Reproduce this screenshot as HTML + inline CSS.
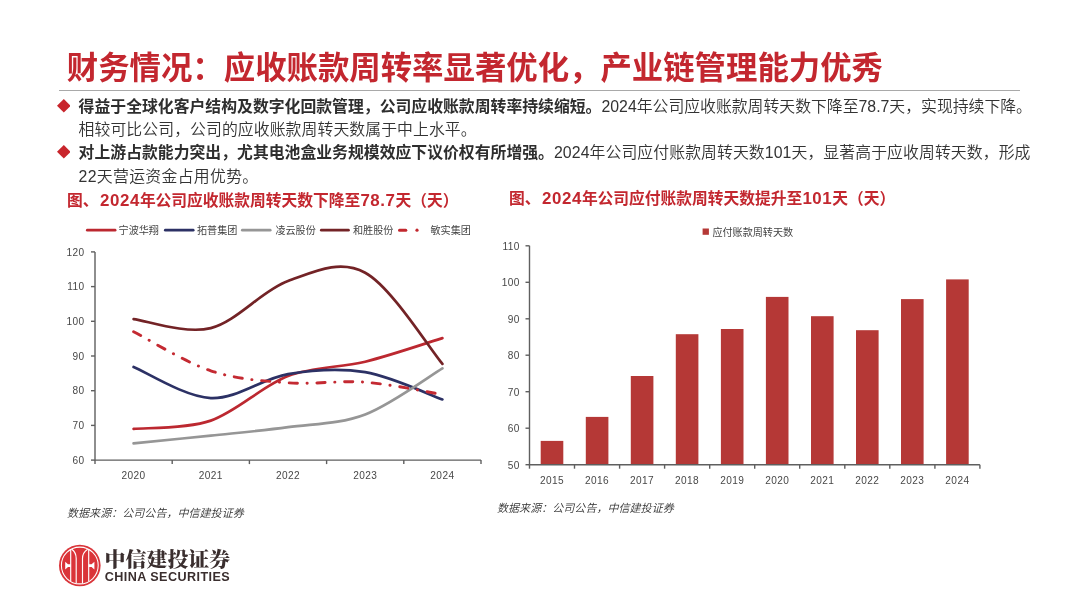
<!DOCTYPE html>
<html lang="zh-CN"><head><meta charset="utf-8"><title>财务情况</title>
<style>
html,body{margin:0;padding:0;background:#fff;}
body{width:1080px;height:599px;position:relative;overflow:hidden;font-family:"Liberation Sans","Noto Sans CJK SC",sans-serif;}
.abs{position:absolute;white-space:nowrap;}
#title{left:66.8px;top:46.1px;font-size:31.4px;line-height:46px;font-weight:700;color:#C3272F;letter-spacing:0;}
#rule{left:59px;top:89.6px;width:961px;height:1.4px;background:#a9a9a9;}
.ln{left:78.6px;font-size:15.85px;line-height:23px;color:#333;font-weight:350;}
.ln b{font-weight:700;color:#2e2e2e;}
.ln span{display:inline-block;}
.bul{left:56.6px;width:13.6px;height:13.6px;}
.ct{font-size:15.75px;line-height:22px;font-weight:700;color:#C3272F;}
.ct i{font-style:normal;font-size:16.9px;letter-spacing:0.55px;}
.ct i:first-child{margin-left:1.6px;}
.src{font-size:11.05px;line-height:14px;font-style:italic;color:#333;font-weight:350;}
svg text.ax{font-size:10.1px;fill:#484848;letter-spacing:0.4px;font-family:"Liberation Sans","Noto Sans CJK SC",sans-serif;}
svg text.lg{font-size:10.1px;fill:#444;font-family:"Liberation Sans","Noto Sans CJK SC",sans-serif;}
#logocn{left:104.6px;top:544px;font-family:"Liberation Serif","Noto Serif CJK SC",serif;font-weight:900;font-size:20.95px;line-height:32px;color:#3a2e2e;transform:scale(1,0.97);transform-origin:0 16px;}
#logoen{left:104.8px;top:569.2px;font-weight:700;font-size:12.6px;line-height:16px;color:#3a2e2e;letter-spacing:0.43px;}
</style></head><body>
<div class="abs" id="title">财务情况：应收账款周转率显著优化，产业链管理能力优秀</div>
<div class="abs" id="rule"></div>
<svg class="abs bul" style="top:99px" viewBox="0 0 10 10"><path d="M5,0L10,5L5,10L0,5Z" fill="#C8252C"/></svg>
<svg class="abs bul" style="top:145.2px" viewBox="0 0 10 10"><path d="M5,0L10,5L5,10L0,5Z" fill="#C8252C"/></svg>
<div class="abs ln" style="top:94.6px"><b>得益于全球化客户结构及数字化回款管理，公司应收账款周转率持续缩短。</b><span id="s1">2024年公司应收账款周转天数下降至78.7天，实现持续下降。</span></div>
<div class="abs ln" style="top:118px;letter-spacing:0.08px">相较可比公司，公司的应收账款周转天数属于中上水平。</div>
<div class="abs ln" style="top:140.9px"><b>对上游占款能力突出，尤其电池盒业务规模效应下议价权有所增强。</b><span id="s3" style="letter-spacing:0.09px">2024年公司应付账款周转天数101天，显著高于应收周转天数，形成</span></div>
<div class="abs ln" style="top:164.9px;letter-spacing:0.32px">22天营运资金占用优势。</div>
<div class="abs ct" style="left:67px;top:189.5px">图、<i>2024</i>年公司应收账款周转天数下降至<i>78.7</i>天（天）</div>
<div class="abs ct" style="left:509px;top:188px">图、<i>2024</i>年公司应付账款周转天数提升至<i>101</i>天（天）</div>
<svg class="abs" style="left:0;top:0" width="1080" height="599" viewBox="0 0 1080 599">
<g id="leftchart">
<path d="M95.0,251.9V460.1H481.0" fill="none" stroke="#5f5f5f" stroke-width="1.4"/>
<path d="M95.0,251.9h-4" stroke="#5f5f5f" stroke-width="1.4"/>
<text x="84.6" y="255.5" text-anchor="end" class="ax">120</text>
<path d="M95.0,286.6h-4" stroke="#5f5f5f" stroke-width="1.4"/>
<text x="84.6" y="290.2" text-anchor="end" class="ax">110</text>
<path d="M95.0,321.3h-4" stroke="#5f5f5f" stroke-width="1.4"/>
<text x="84.6" y="324.9" text-anchor="end" class="ax">100</text>
<path d="M95.0,356.0h-4" stroke="#5f5f5f" stroke-width="1.4"/>
<text x="84.6" y="359.6" text-anchor="end" class="ax">90</text>
<path d="M95.0,390.7h-4" stroke="#5f5f5f" stroke-width="1.4"/>
<text x="84.6" y="394.3" text-anchor="end" class="ax">80</text>
<path d="M95.0,425.4h-4" stroke="#5f5f5f" stroke-width="1.4"/>
<text x="84.6" y="429.0" text-anchor="end" class="ax">70</text>
<path d="M95.0,460.1h-4" stroke="#5f5f5f" stroke-width="1.4"/>
<text x="84.6" y="463.7" text-anchor="end" class="ax">60</text>
<path d="M95.0,460.1v4" stroke="#5f5f5f" stroke-width="1.4"/>
<path d="M172.2,460.1v4" stroke="#5f5f5f" stroke-width="1.4"/>
<path d="M249.4,460.1v4" stroke="#5f5f5f" stroke-width="1.4"/>
<path d="M326.6,460.1v4" stroke="#5f5f5f" stroke-width="1.4"/>
<path d="M403.8,460.1v4" stroke="#5f5f5f" stroke-width="1.4"/>
<path d="M481.0,460.1v4" stroke="#5f5f5f" stroke-width="1.4"/>
<text x="133.6" y="478.8" text-anchor="middle" class="ax">2020</text>
<text x="210.8" y="478.8" text-anchor="middle" class="ax">2021</text>
<text x="288.0" y="478.8" text-anchor="middle" class="ax">2022</text>
<text x="365.2" y="478.8" text-anchor="middle" class="ax">2023</text>
<text x="442.4" y="478.8" text-anchor="middle" class="ax">2024</text>
<path d="M133.60,428.90 C146.47,427.52 185.07,429.40 210.80,420.60 C236.53,411.80 262.27,385.92 288.00,376.10 C313.73,366.28 339.47,368.03 365.20,361.70 C390.93,355.37 429.53,342.03 442.40,338.10" fill="none" stroke="#BC2830" stroke-width="2.7" stroke-linecap="round"/>
<path d="M133.60,367.00 C146.47,372.18 185.07,396.92 210.80,398.10 C236.53,399.28 262.27,378.42 288.00,374.10 C313.73,369.78 339.47,367.98 365.20,372.20 C390.93,376.42 429.53,394.87 442.40,399.40" fill="none" stroke="#2C3165" stroke-width="2.7" stroke-linecap="round"/>
<path d="M133.60,443.30 C146.47,442.02 185.07,438.28 210.80,435.60 C236.53,432.92 262.27,430.73 288.00,427.20 C313.73,423.67 339.47,424.22 365.20,414.40 C390.93,404.58 429.53,375.98 442.40,368.30" fill="none" stroke="#969696" stroke-width="2.7" stroke-linecap="round"/>
<path d="M133.60,319.10 C146.47,320.60 185.07,334.43 210.80,328.10 C236.53,321.77 262.27,290.33 288.00,281.10 C313.73,271.87 339.47,258.90 365.20,272.70 C390.93,286.50 429.53,348.70 442.40,363.90" fill="none" stroke="#732326" stroke-width="2.7" stroke-linecap="round"/>
<path d="M133.60,331.70 C146.47,338.22 185.07,362.28 210.80,370.80 C236.53,379.32 262.27,380.90 288.00,382.80 C313.73,384.70 339.47,380.25 365.20,382.20 C390.93,384.15 429.53,392.45 442.40,394.50" fill="none" stroke="#C42A32" stroke-width="2.9" stroke-linecap="round" stroke-dasharray="8.2,9.6,0.2,9.7"/>
<path d="M87.3,230.2H115.1" stroke="#BC2830" stroke-width="2.7" stroke-linecap="round"/>
<text x="118.6" y="233.8" class="lg">宁波华翔</text>
<path d="M165.3,230.2H193.2" stroke="#2C3165" stroke-width="2.7" stroke-linecap="round"/>
<text x="197.0" y="233.8" class="lg">拓普集团</text>
<path d="M242.3,230.2H270.2" stroke="#969696" stroke-width="2.7" stroke-linecap="round"/>
<text x="275.4" y="233.8" class="lg">凌云股份</text>
<path d="M321.3,230.2H348.5" stroke="#732326" stroke-width="2.7" stroke-linecap="round"/>
<text x="353.0" y="233.8" class="lg">和胜股份</text>
<path d="M399.5,230.2H405.8" stroke="#C2282E" stroke-width="3" stroke-linecap="round"/>
<circle cx="417" cy="230.2" r="1.6" fill="#C2282E"/>
<text x="430.5" y="233.8" class="lg">敏实集团</text>
</g>
<g id="rightchart">
<rect x="540.7" y="440.9" width="22.6" height="23.8" fill="#B53836"/>
<rect x="585.8" y="416.9" width="22.6" height="47.8" fill="#B53836"/>
<rect x="630.8" y="376.0" width="22.6" height="88.7" fill="#B53836"/>
<rect x="675.8" y="334.2" width="22.6" height="130.5" fill="#B53836"/>
<rect x="720.9" y="329.0" width="22.6" height="135.7" fill="#B53836"/>
<rect x="765.9" y="296.9" width="22.6" height="167.8" fill="#B53836"/>
<rect x="811.0" y="316.2" width="22.6" height="148.5" fill="#B53836"/>
<rect x="856.0" y="330.2" width="22.6" height="134.5" fill="#B53836"/>
<rect x="901.0" y="299.1" width="22.6" height="165.6" fill="#B53836"/>
<rect x="946.1" y="279.4" width="22.6" height="185.3" fill="#B53836"/>
<path d="M529.5,245.8V464.7H979.9" fill="none" stroke="#5f5f5f" stroke-width="1.4"/>
<path d="M529.5,245.8h-4" stroke="#5f5f5f" stroke-width="1.4"/>
<text x="519.9" y="249.7" text-anchor="end" class="ax">110</text>
<path d="M529.5,282.3h-4" stroke="#5f5f5f" stroke-width="1.4"/>
<text x="519.9" y="286.2" text-anchor="end" class="ax">100</text>
<path d="M529.5,318.8h-4" stroke="#5f5f5f" stroke-width="1.4"/>
<text x="519.9" y="322.7" text-anchor="end" class="ax">90</text>
<path d="M529.5,355.2h-4" stroke="#5f5f5f" stroke-width="1.4"/>
<text x="519.9" y="359.1" text-anchor="end" class="ax">80</text>
<path d="M529.5,391.7h-4" stroke="#5f5f5f" stroke-width="1.4"/>
<text x="519.9" y="395.6" text-anchor="end" class="ax">70</text>
<path d="M529.5,428.2h-4" stroke="#5f5f5f" stroke-width="1.4"/>
<text x="519.9" y="432.1" text-anchor="end" class="ax">60</text>
<path d="M529.5,464.7h-4" stroke="#5f5f5f" stroke-width="1.4"/>
<text x="519.9" y="468.6" text-anchor="end" class="ax">50</text>
<path d="M529.5,464.7v4" stroke="#5f5f5f" stroke-width="1.4"/>
<path d="M574.5,464.7v4" stroke="#5f5f5f" stroke-width="1.4"/>
<path d="M619.6,464.7v4" stroke="#5f5f5f" stroke-width="1.4"/>
<path d="M664.6,464.7v4" stroke="#5f5f5f" stroke-width="1.4"/>
<path d="M709.7,464.7v4" stroke="#5f5f5f" stroke-width="1.4"/>
<path d="M754.7,464.7v4" stroke="#5f5f5f" stroke-width="1.4"/>
<path d="M799.7,464.7v4" stroke="#5f5f5f" stroke-width="1.4"/>
<path d="M844.8,464.7v4" stroke="#5f5f5f" stroke-width="1.4"/>
<path d="M889.8,464.7v4" stroke="#5f5f5f" stroke-width="1.4"/>
<path d="M934.9,464.7v4" stroke="#5f5f5f" stroke-width="1.4"/>
<path d="M979.9,464.7v4" stroke="#5f5f5f" stroke-width="1.4"/>
<text x="552.0" y="483.9" text-anchor="middle" class="ax">2015</text>
<text x="597.1" y="483.9" text-anchor="middle" class="ax">2016</text>
<text x="642.1" y="483.9" text-anchor="middle" class="ax">2017</text>
<text x="687.1" y="483.9" text-anchor="middle" class="ax">2018</text>
<text x="732.2" y="483.9" text-anchor="middle" class="ax">2019</text>
<text x="777.2" y="483.9" text-anchor="middle" class="ax">2020</text>
<text x="822.3" y="483.9" text-anchor="middle" class="ax">2021</text>
<text x="867.3" y="483.9" text-anchor="middle" class="ax">2022</text>
<text x="912.3" y="483.9" text-anchor="middle" class="ax">2023</text>
<text x="957.4" y="483.9" text-anchor="middle" class="ax">2024</text>
<rect x="702.6" y="228.5" width="6.3" height="6.3" fill="#B53836"/>
<text x="712.4" y="235.6" class="lg">应付账款周转天数</text>
</g>
<g id="logo">
<circle cx="79.8" cy="565.5" r="20.8" fill="#DA3439"/>
<circle cx="79.8" cy="565.5" r="18.4" fill="none" stroke="#fff" stroke-width="1.05"/>
<g fill="none" stroke="#fff" stroke-width="1.15">
<path d="M70.7,549.6V581.4"/>
<path d="M88.7,549.6V581.4"/>
<path d="M76.2,583.6V558.5C76.2,554 74.6,551.2 71.8,549.2"/>
<path d="M82.5,583.6V558.5C82.5,554 84.6,551.2 87.6,549.2"/>
</g>
<path d="M65.2,561.8L68,564.3H70.7V567H68L65.2,569.5Z" fill="#fff"/>
<path d="M94.4,561.8L91.6,564.3H88.7V567H91.6L94.4,569.5Z" fill="#fff"/>
</g>
</svg>
<div class="abs src" style="left:67px;top:506px">数据来源：公司公告，中信建投证券</div>
<div class="abs src" style="left:497px;top:501px">数据来源：公司公告，中信建投证券</div>
<div class="abs" id="logocn">中信建投证券</div>
<div class="abs" id="logoen">CHINA SECURITIES</div>
</body></html>
